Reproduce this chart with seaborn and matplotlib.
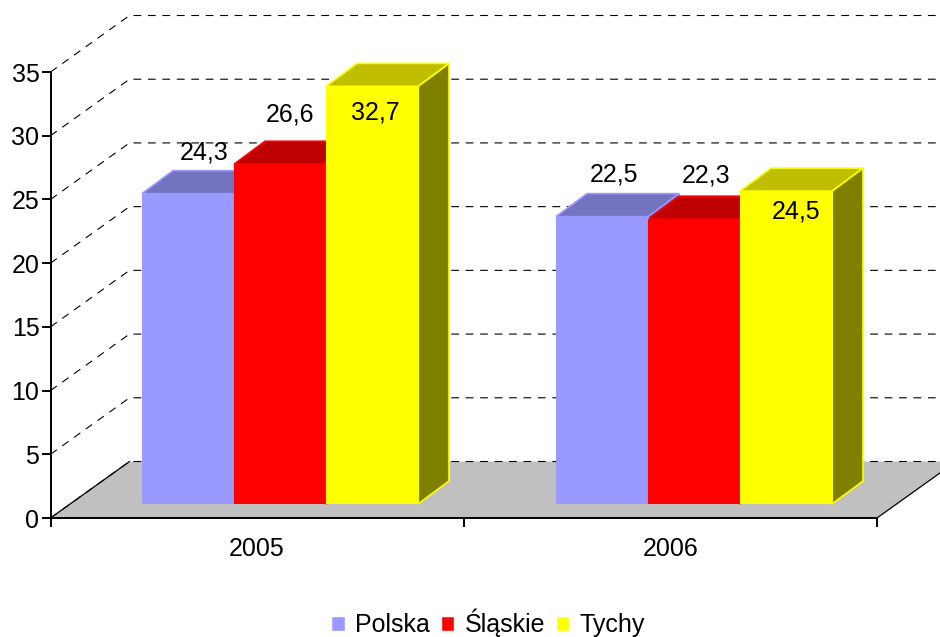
import matplotlib
matplotlib.use('Agg')
import matplotlib.pyplot as plt
import numpy as np
import pandas as pd
import seaborn as sns
from matplotlib.patches import Polygon
from matplotlib.transforms import IdentityTransform

# dane
years = ['2005', '2006']
regions = ['Polska', 'Śląskie', 'Tychy']
polska = [24.3, 22.5]
slaskie = [26.6, 22.3]
tychy = [32.7, 24.5]
yticks = [0, 5, 10, 15, 20, 25, 30, 35]
colors = ['#9999FF', '#FF0000', '#FFFF00']

# przesuniecia etykiet wzgledem srodka gory slupka, w pikselach
label_dx = [16, 10, 3, 12, 12, 10]
label_dy = [44, 52, -24, 45, 46, -18]

W, H = 940, 637
WALL = (79, 56.5)    # glebokosc scian wykresu
DEPTH = (31, 23)     # glebokosc slupka
FS = 18

df = pd.DataFrame({
    'rok': years * 3,
    'region': [r for r in regions for _ in years],
    'wartosc': polska + slaskie + tychy,
})

sns.set_theme(style='white')
plt.rcParams['font.family'] = ['Liberation Sans', 'DejaVu Sans']
plt.rcParams['font.size'] = FS

fig = plt.figure(figsize=(W / 100, H / 100), dpi=100)
fig.patch.set_facecolor('white')

# os z podzialka
ax = fig.add_axes([50.5 / W, (H - 518) / H, 826.5 / W, 446 / H])
ax.set_xlim(-0.5, 1.5)
ax.set_ylim(0, 35)
ax.patch.set_alpha(0)
sns.despine(ax=ax)
for s in ['left', 'bottom']:
    ax.spines[s].set_linewidth(1.4)
    ax.spines[s].set_color('black')
ax.set_yticks(yticks)
ax.set_xticks([-0.5, 0.5, 1.5])
ax.set_xticklabels([])
ax.set_xticks([0, 1], labels=years, minor=True)
ax.tick_params(axis='both', which='major', length=6.5, width=1.4, color='black',
               labelsize=FS, labelcolor='black', left=True, bottom=True, pad=1.5)
ax.tick_params(axis='x', which='minor', length=0, labelsize=FS, labelcolor='black', pad=14)

# podloga i siatka
ident = IdentityTransform()
x0, y0 = ax.transData.transform((-0.5, 0))
x1, _ = ax.transData.transform((1.5, 0))
ax.add_patch(Polygon([(x0, y0), (x1, y0), (x1 + WALL[0], y0 + WALL[1]), (x0 + WALL[0], y0 + WALL[1])],
                     closed=True, facecolor='#C0C0C0', edgecolor='none',
                     transform=ident, clip_on=False, zorder=1))
ax.plot([x0, x0 + WALL[0]], [y0, y0 + WALL[1]], color='black', lw=0.9, transform=ident, clip_on=False, zorder=2)
ax.plot([x1, x1 + WALL[0]], [y0, y0 + WALL[1]], color='black', lw=0.9, transform=ident, clip_on=False, zorder=2)
for v in yticks:
    xa, ya = ax.transData.transform((-0.5, v))
    xb, _ = ax.transData.transform((1.5, v))
    ax.plot([xa, xa + WALL[0], xb + WALL[0]], [ya, ya + WALL[1], ya + WALL[1]],
            color='black', lw=0.8, dashes=(7, 6), transform=ident, clip_on=False, zorder=2)

# slupki
ax_bar = fig.add_axes([73 / W, (H - 504) / H, 828 / W, 447 / H])
sns.barplot(data=df, x='rok', y='wartosc', hue='region', order=years, hue_order=regions,
            palette=colors, saturation=1, width=2 / 3, gap=0, ax=ax_bar)
ax_bar.set_xlim(-0.5, 1.5)
ax_bar.set_ylim(0, 35)
ax_bar.patch.set_alpha(0)
ax_bar.axis('off')

bars = []
for container, color in zip(ax_bar.containers, colors):
    for bar in container:
        bars.append((bar.get_x(), bar, color))
bars.sort(key=lambda item: item[0])


def shade(color, k):
    return tuple(c * k for c in matplotlib.colors.to_rgb(color))


for i, (_, bar, color) in enumerate(bars):
    bar.set_edgecolor(color)
    bar.set_linewidth(0.8)
    bar.set_zorder(5)
    xl, yt = ax_bar.transData.transform((bar.get_x(), bar.get_height()))
    xr, yb = ax_bar.transData.transform((bar.get_x() + bar.get_width(), 0))
    dx, dy = DEPTH
    side = Polygon([(xr, yb), (xr + dx, yb + dy), (xr + dx, yt + dy), (xr, yt)], closed=True,
                   facecolor=shade(color, 0.5), edgecolor=color, lw=1.2,
                   transform=ident, clip_on=False, zorder=3 + i * 0.01)
    top = Polygon([(xl, yt), (xr, yt), (xr + dx, yt + dy), (xl + dx, yt + dy)], closed=True,
                  facecolor=shade(color, 0.75), edgecolor=color, lw=1.2,
                  transform=ident, clip_on=False, zorder=3 + i * 0.01)
    ax_bar.add_patch(side)
    ax_bar.add_patch(top)

order = sorted(range(len(df)), key=lambda n: (years.index(df['rok'][n]), regions.index(df['region'][n])))
for j, n in enumerate(order):
    _, bar, _ = bars[j]
    text = f"{df['wartosc'][n]:.1f}".replace('.', ',')
    ax_bar.annotate(text, (bar.get_x() + bar.get_width() / 2, bar.get_height()),
                    xytext=(label_dx[j], label_dy[j]), textcoords='offset pixels',
                    ha='center', va='center_baseline', fontsize=FS, color='black',
                    annotation_clip=False, zorder=6)

# legenda
handles, labels = ax_bar.get_legend_handles_labels()
ax_bar.get_legend().remove()
leg = fig.legend(handles, labels, loc='center', bbox_to_anchor=(488 / W, (H - 623) / H),
                 ncol=3, frameon=False, fontsize=FS, handlelength=0.55, handleheight=0.55,
                 handletextpad=0.4, columnspacing=0.43, borderpad=0, labelcolor='black')

fig.savefig('out.png', dpi=100)
